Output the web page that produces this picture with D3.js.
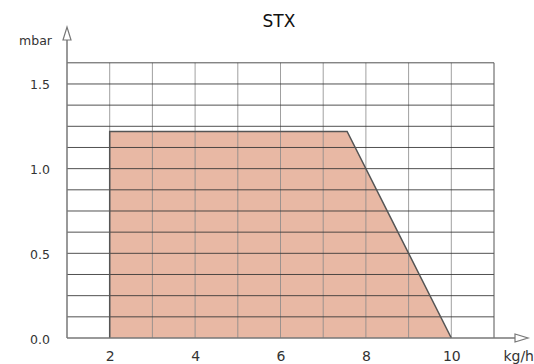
<!DOCTYPE html>
<html><head><meta charset="utf-8">
<script src="https://cdn.jsdelivr.net/npm/d3@7"></script>
<style>body{margin:0;background:#fff}svg{display:block}text{font-family:"DejaVu Sans",Verdana,sans-serif}</style>
</head><body>
<svg id="c" width="534" height="364"></svg>
<script>
const title = "STX";
const xLabel = "kg/h";
const yLabel = "mbar";
const xTicks = [2, 4, 6, 8, 10];
const yTicks = [0.0, 0.5, 1.0, 1.5];
const flowX = [2, 2, 7.56, 10];
const pressureY = [0, 1.22, 1.22, 0];

const svg = d3.select("#c");
const x = d3.scaleLinear().domain([1, 11]).range([67, 494]);
const y = d3.scaleLinear().domain([0, 1.625]).range([338, 62.8]);

// area
const pts = flowX.map((v, i) => [v, pressureY[i]]);
svg.append("path")
  .attr("d", d3.line().x(d => x(d[0])).y(d => y(d[1]))(pts) + "Z")
  .attr("fill", "#e8b8a4").attr("stroke", "none");

// vertical grid
const g = svg.append("g");
g.selectAll(".v").data(d3.range(2, 11)).join("line")
  .attr("x1", d => x(d)).attr("x2", d => x(d))
  .attr("y1", y(0)).attr("y2", y(1.625))
  .attr("stroke", "#888").attr("stroke-opacity", 0.8).attr("stroke-width", 1);
// horizontal grid
g.selectAll(".h").data(d3.range(1, 14).map(i => i * 0.125)).join("line")
  .attr("x1", x(1)).attr("x2", x(11))
  .attr("y1", d => y(d)).attr("y2", d => y(d))
  .attr("stroke", "#333").attr("stroke-opacity", 0.85).attr("stroke-width", 1);
// right frame
g.append("line").attr("x1", x(11)).attr("x2", x(11)).attr("y1", y(0)).attr("y2", y(1.625))
  .attr("stroke", "#555").attr("stroke-width", 1);

// outline of area (left edge + plateau + slope)
svg.append("path")
  .attr("d", d3.line().x(d => x(d[0])).y(d => y(d[1]))(pts))
  .attr("fill", "none").attr("stroke", "#555").attr("stroke-width", 1.5);

// axes
const ax = svg.append("g").attr("stroke", "#777").attr("stroke-width", 1.5).attr("fill", "none");
ax.append("line").attr("x1", x(1)).attr("x2", x(1)).attr("y1", y(0)).attr("y2", 38);
ax.append("path").attr("d", `M${x(1)-4},40 L${x(1)},27 L${x(1)+4},40 Z`).attr("fill", "#fff").attr("stroke-width", 1.2);
ax.append("line").attr("x1", x(1)).attr("x2", 515).attr("y1", y(0)).attr("y2", y(0));
ax.append("path").attr("d", `M515,${y(0)-4} L528,${y(0)} L515,${y(0)+4} Z`).attr("fill", "#fff").attr("stroke-width", 1.2);

// ticks labels via axes
const xa = svg.append("g").attr("transform", `translate(0,${y(0)+10})`)
  .call(d3.axisBottom(x).tickValues(xTicks).tickSize(0).tickFormat(d3.format("d")));
xa.select(".domain").remove();
xa.selectAll("text").attr("font-size", 14).attr("fill", "#333").attr("font-family", "DejaVu Sans");

const ya = svg.append("g").attr("transform", `translate(${x(1)-14},1)`)
  .call(d3.axisLeft(y).tickValues(yTicks).tickSize(0).tickFormat(d3.format(".1f")));
ya.select(".domain").remove();
ya.selectAll("text").attr("font-size", 12.5).attr("fill", "#333").attr("font-family", "DejaVu Sans");

svg.append("text").attr("x", 279).attr("y", 27).attr("text-anchor", "middle")
  .attr("font-size", 17).attr("fill", "#111").text(title);
svg.append("text").attr("x", 52).attr("y", 45).attr("text-anchor", "end")
  .attr("font-size", 12.5).attr("fill", "#333").text(yLabel);
svg.append("text").attr("x", 534).attr("y", 361).attr("text-anchor", "end")
  .attr("font-size", 14).attr("fill", "#333").text(xLabel);
</script>
</body></html>
